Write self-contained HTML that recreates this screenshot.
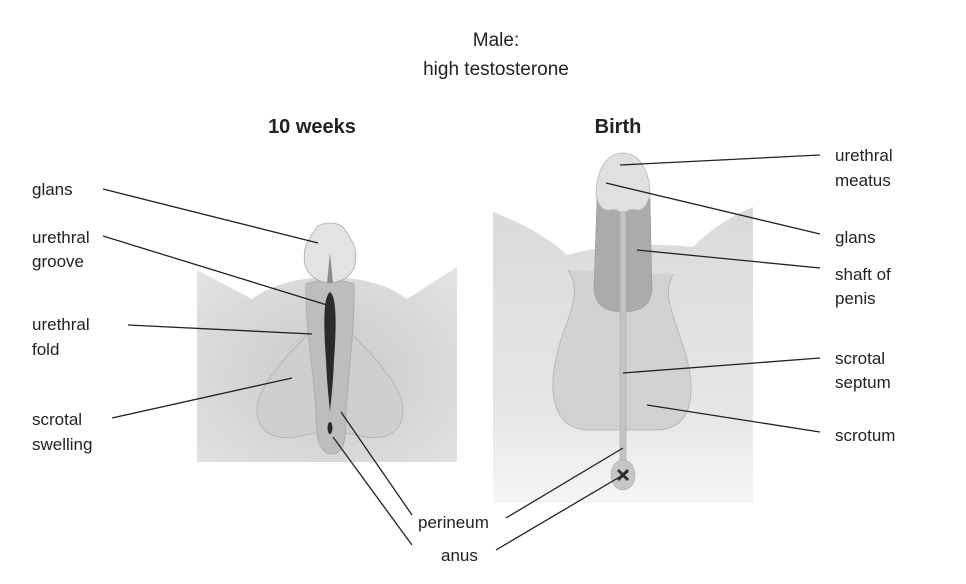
<!DOCTYPE html>
<html><head><meta charset="utf-8"><style>
html,body{margin:0;padding:0;background:#fff;}
svg{display:block;}
text{font-family:"Liberation Sans",sans-serif;fill:#222;font-size:17px;}
.b{font-weight:bold;font-size:20px;}
.t{font-size:19px;}
line{stroke:#222;stroke-width:1.3;}
</style></head><body>
<svg width="966" height="584" viewBox="0 0 966 584">
<defs>
<radialGradient id="lg" cx="0.5" cy="0.55" r="0.7">
<stop offset="0" stop-color="#c9c9c9"/><stop offset="1" stop-color="#e2e2e2"/></radialGradient>
<linearGradient id="rg" x1="0" y1="0" x2="0" y2="1">
<stop offset="0" stop-color="#dadada"/><stop offset="0.7" stop-color="#e6e6e6"/><stop offset="1" stop-color="#f6f6f6"/></linearGradient>
</defs>
<text x="496" y="46" text-anchor="middle" class="t">Male:</text>
<text x="496" y="75" text-anchor="middle" class="t">high testosterone</text>
<text x="312" y="133" text-anchor="middle" class="b">10 weeks</text>
<text x="618" y="133" text-anchor="middle" class="b">Birth</text>

<!-- left panel -->
<path d="M197,270 L252,299 Q280,278 330,277 Q380,278 407,299 L457,267 L457,462 L197,462 Z" fill="url(#lg)"/>
<path d="M308,334 C285,358 258,385 257,410 C257,433 275,440 295,437 L330,430 L365,437 C385,440 403,433 403,410 C402,385 375,358 352,334 Z" fill="#cfcfcf" stroke="#b0b0b0" stroke-width="0.8"/>
<path d="M306,284 Q330,275 354,284 C355,320 350,360 346,410 C346,440 345,453 332,454 C319,453 316,440 316,410 C312,360 305,320 306,284 Z" fill="#bdbdbd" stroke="#a8a8a8" stroke-width="0.8"/>
<path d="M330,292 C336,296 337,320 334,360 C333,385 331,400 330,412 C329,400 327,385 326,360 C323,320 324,296 330,292 Z" fill="#2a2a2a"/>
<ellipse cx="330" cy="428" rx="2.5" ry="6" fill="#2a2a2a"/>
<path d="M318,226 Q330,220 342,226 Q347,232 350,238 Q358,248 355,265 Q350,281 330,283 Q310,281 305,265 Q302,248 310,238 Q313,232 318,226 Z" fill="#e3e3e3" stroke="#aaa" stroke-width="0.8"/>
<path d="M330,253 L333,283 L327,283 Z" fill="#8a8a8a"/>

<!-- right panel -->
<path d="M493,212 Q540,230 567,255 Q620,240 693,247 Q720,220 753,207 L753,503 L493,503 Z" fill="url(#rg)"/>
<path d="M568,270 C578,285 575,300 568,320 C558,345 552,370 553,390 C555,420 570,430 590,430 L623,430 L655,430 C680,430 692,415 691,385 C690,355 672,320 669,300 C667,290 670,280 673,274" fill="#d2d2d2" stroke="#b0b0b0" stroke-width="0.8"/>
<path d="M597,198 L650,198 L652,290 Q650,312 623,312 Q596,312 594,290 Z" fill="#ababab" stroke="#999" stroke-width="0.6"/>
<path d="M623,153 C640,153 650,172 650,195 Q645,212 636,210 Q630,208 623,214 Q616,208 610,210 Q600,212 596,195 C596,172 606,153 623,153 Z" fill="#e0e0e0" stroke="#b8b8b8" stroke-width="0.8"/>
<rect x="620" y="212" width="6" height="248" fill="#c4c4c4" stroke="#a8a8a8" stroke-width="0.6"/>
<ellipse cx="623" cy="475" rx="12" ry="15" fill="#c6c6c6" stroke="#a8a8a8" stroke-width="0.6"/>
<path d="M618,470 L628,480 M628,470 L618,480" stroke="#333" stroke-width="3"/>

<!-- leaders -->
<line x1="103" y1="189" x2="318" y2="243"/>
<line x1="103" y1="236" x2="327" y2="305"/>
<line x1="128" y1="325" x2="312" y2="334"/>
<line x1="112" y1="418" x2="292" y2="378"/>
<line x1="412" y1="515" x2="341" y2="412"/>
<line x1="412" y1="545" x2="333" y2="437"/>
<line x1="506" y1="518" x2="623" y2="448"/>
<line x1="496" y1="550" x2="628" y2="472"/>
<line x1="820" y1="155" x2="620" y2="165"/>
<line x1="820" y1="234" x2="606" y2="183"/>
<line x1="820" y1="268" x2="637" y2="250"/>
<line x1="820" y1="358" x2="623" y2="373"/>
<line x1="820" y1="432" x2="647" y2="405"/>

<text x="32" y="195">glans</text>
<text x="32" y="243">urethral</text><text x="32" y="267">groove</text>
<text x="32" y="330">urethral</text><text x="32" y="355">fold</text>
<text x="32" y="425">scrotal</text><text x="32" y="450">swelling</text>
<text x="835" y="161">urethral</text><text x="835" y="186">meatus</text>
<text x="835" y="243">glans</text>
<text x="835" y="280">shaft of</text><text x="835" y="304">penis</text>
<text x="835" y="364">scrotal</text><text x="835" y="388">septum</text>
<text x="835" y="441">scrotum</text>
<text x="418" y="528">perineum</text>
<text x="441" y="561">anus</text>
</svg>
</body></html>
